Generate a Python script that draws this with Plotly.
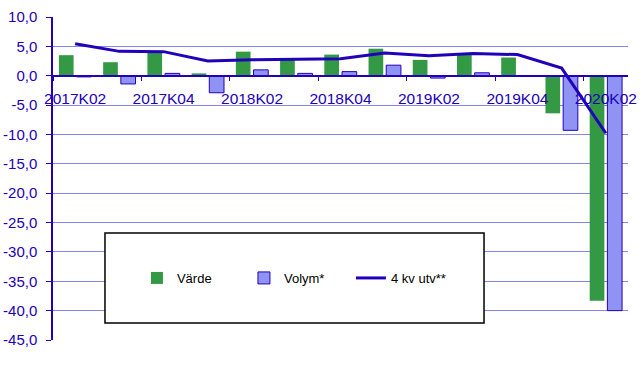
import plotly.graph_objects as go

categories = ["2017K02", "2017K03", "2017K04", "2018K01", "2018K02", "2018K03", "2018K04",
              "2019K01", "2019K02", "2019K03", "2019K04", "2020K01", "2020K02"]
varde = [3.5, 2.3, 4.2, 0.4, 4.1, 2.8, 3.6, 4.6, 2.7, 3.7, 3.1, -6.4, -38.3]
volym = [-0.2, -1.4, 0.4, -2.9, 1.0, 0.4, 0.7, 1.8, -0.4, 0.5, -0.1, -9.3, -40.0]
utv4 = [5.45, 4.15, 4.1, 2.5, 2.7, 2.85, 2.9, 3.85, 3.4, 3.8, 3.6, 1.3, -9.8]
y_ticks = [10, 5, 0, -5, -10, -15, -20, -25, -30, -35, -40, -45]
y_ticktext = [f"{v:.1f}".replace(".", ",") for v in y_ticks]

DARK = "#2200BB"
GRID = "#8585F0"
GREEN = "#339944"
LIGHT = "#8F94F4"

fig = go.Figure()
fig.add_trace(go.Bar(x=categories, y=varde, name="Värde", marker=dict(color=GREEN, line=dict(width=0))))
fig.add_trace(go.Bar(x=categories, y=volym, name="Volym*", marker=dict(color=LIGHT, line=dict(color=DARK, width=1))))
fig.add_trace(go.Scatter(x=categories, y=utv4, name="4 kv utv**", mode="lines", line=dict(color=DARK, width=3)))

ymin, ymax = -45, 10
fig.update_layout(
    width=644, height=365,
    margin=dict(l=53, r=16, t=17, b=25),
    paper_bgcolor="white", plot_bgcolor="white",
    font=dict(family="Liberation Sans, Arial, sans-serif", color=DARK, size=15),
    barmode="group", bargap=0.2, bargroupgap=0.17,
    showlegend=True,
    legend=dict(orientation="h", x=0.146, xanchor="left", y=0.192, yanchor="middle",
                bgcolor="rgba(0,0,0,0)", font=dict(color="black", size=13),
                entrywidth=62, itemwidth=30, traceorder="normal"),
    xaxis=dict(type="category", anchor="free", position=(0 - ymin) / (ymax - ymin),
               automargin=False, tickangle=0,
               showline=True, linecolor=DARK, linewidth=1.5, showgrid=False, zeroline=False,
               tickson="boundaries", tickmode="linear", tick0=0, dtick=2,
               ticks="outside", ticklen=5, tickcolor=DARK, ticklabelstandoff=9,
               tickfont=dict(size=15.5, color=DARK)),
    yaxis=dict(range=[ymin, ymax], tickvals=y_ticks, ticktext=y_ticktext, automargin=False,
               showline=True, linecolor=DARK, linewidth=1.5, ticks="outside", ticklen=5, tickcolor=DARK,
               showgrid=True, gridcolor=GRID, gridwidth=1, zeroline=False,
               ticklabelstandoff=6, tickfont=dict(size=15, color=DARK)),
    shapes=[dict(type="rect", xref="paper", yref="paper", x0=0.0904, x1=0.7496, y0=0.0526, y1=0.331,
                 line=dict(color="black", width=1.5), fillcolor="white", layer="above")],
)
fig.write_html("out.html", config={"displayModeBar": False},
               post_script="document.body.style.margin='0';document.body.style.padding='0';")
